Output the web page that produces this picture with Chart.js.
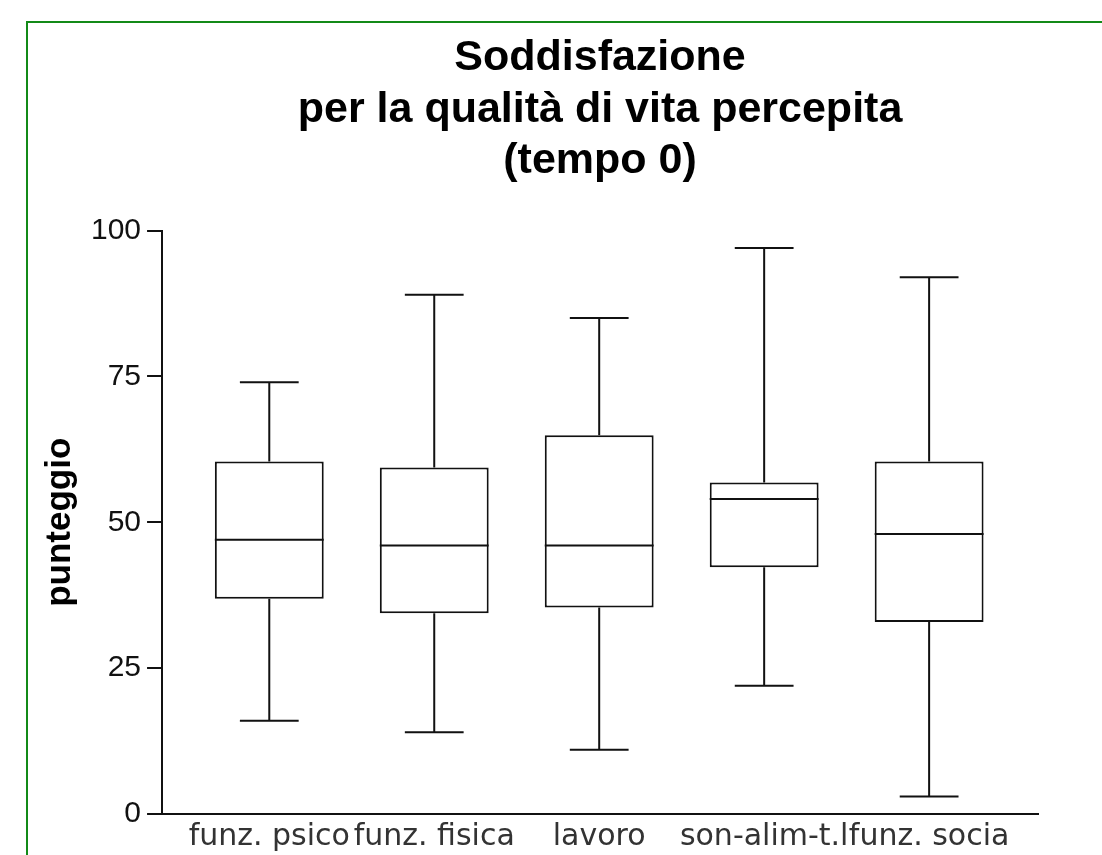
<!DOCTYPE html>
<html>
<head>
<meta charset="utf-8">
<script src="https://cdn.jsdelivr.net/npm/chart.js@4/dist/chart.umd.min.js"></script>
<style>
  html, body { margin: 0; padding: 0; background: #fff; overflow: hidden; }
  #frame {
    position: absolute; left: 26px; top: 21px; width: 1200px; height: 1000px;
    border-top: 2px solid #138a18; border-left: 2px solid #138a18;
  }
  #chart { position: absolute; left: 0; top: 0; }
</style>
</head>
<body>
<div id="frame"></div>
<canvas id="chart" width="1102" height="855"></canvas>
<script>
// dati (tempo 0)
const categorie = ['funz. psico', 'funz. fisica', 'lavoro', 'son-alim-t.l', 'funz. socia'];
const minimi  = [16, 14, 11, 22, 3];
const q1      = [36.9, 34.4, 35.4, 42.3, 32.9];
const mediane = [47, 46, 46, 54, 48];
const q3      = [60.4, 59.4, 64.9, 56.8, 60.4];
const massimi = [74, 89, 85, 97, 92];
const yTicks  = [0, 25, 50, 75, 100];

// baffi e mediana disegnati sopra le scatole
const baffiPlugin = {
  id: 'baffi',
  afterDatasetsDraw(chart) {
    const ctx = chart.ctx;
    const y = chart.scales.y;
    const meta = chart.getDatasetMeta(0);
    ctx.save();
    ctx.strokeStyle = '#111';
    ctx.lineWidth = 2;
    meta.data.forEach((bar, i) => {
      const cx = bar.x;
      const half = bar.width / 2;
      const cap = bar.width * 0.27;
      ctx.beginPath();
      // baffo superiore
      ctx.moveTo(cx, y.getPixelForValue(q3[i]));
      ctx.lineTo(cx, y.getPixelForValue(massimi[i]));
      ctx.moveTo(cx - cap, y.getPixelForValue(massimi[i]));
      ctx.lineTo(cx + cap, y.getPixelForValue(massimi[i]));
      // baffo inferiore
      ctx.moveTo(cx, y.getPixelForValue(q1[i]));
      ctx.lineTo(cx, y.getPixelForValue(minimi[i]));
      ctx.moveTo(cx - cap, y.getPixelForValue(minimi[i]));
      ctx.lineTo(cx + cap, y.getPixelForValue(minimi[i]));
      // mediana
      ctx.moveTo(cx - half, y.getPixelForValue(mediane[i]));
      ctx.lineTo(cx + half, y.getPixelForValue(mediane[i]));
      ctx.stroke();
    });
    ctx.restore();
  }
};

new Chart(document.getElementById('chart').getContext('2d'), {
  type: 'bar',
  data: {
    datasets: [{
      data: categorie.map((c, i) => ({ x: i, y: [q1[i], q3[i]] })),
      backgroundColor: '#fff',
      borderColor: '#111',
      borderWidth: 2,
      borderSkipped: false,
      categoryPercentage: 1,
      barPercentage: 0.66
    }]
  },
  options: {
    responsive: false,
    animation: false,
    layout: { padding: { top: 0, left: 0, right: 64, bottom: -5 } },
    plugins: {
      legend: { display: false },
      tooltip: { enabled: false },
      title: {
        display: true,
        fullSize: false,
        text: ['Soddisfazione', 'per la qualità di vita percepita', '(tempo 0)'],
        color: '#000',
        font: { family: '"Liberation Sans", Arial, sans-serif', size: 43, weight: 'bold', lineHeight: 1.19 },
        padding: { top: 33, bottom: 44 }
      }
    },
    scales: {
      x: {
        type: 'linear',
        offset: false,
        min: -0.65,
        max: 4.66,
        afterBuildTicks: axis => { axis.ticks = categorie.map((c, i) => ({ value: i })); },
        grid: { display: true, offset: false, drawOnChartArea: false, drawTicks: false },
        border: { display: true, color: '#111', width: 2 },
        ticks: {
          autoSkip: false,
          maxRotation: 0,
          padding: 6,
          color: '#333',
          font: { family: '"DejaVu Sans", sans-serif', size: 30, lineHeight: 1.133 },
          callback: v => categorie[v]
        }
      },
      y: {
        min: 0,
        max: 100,
        afterBuildTicks: axis => { axis.ticks = yTicks.map(v => ({ value: v })); },
        grid: { drawOnChartArea: false, drawTicks: true, tickLength: 15, color: '#111', lineWidth: 2 },
        border: { display: true, color: '#111', width: 2 },
        ticks: {
          padding: 6,
          color: '#111',
          font: { family: '"Liberation Sans", Arial, sans-serif', size: 30 }
        },
        title: {
          display: true,
          text: 'punteggio',
          color: '#000',
          font: { family: '"Liberation Sans", Arial, sans-serif', size: 35, weight: 'bold' },
          padding: { top: 39, bottom: 4 }
        }
      }
    }
  },
  plugins: [baffiPlugin]
});
</script>
</body>
</html>
